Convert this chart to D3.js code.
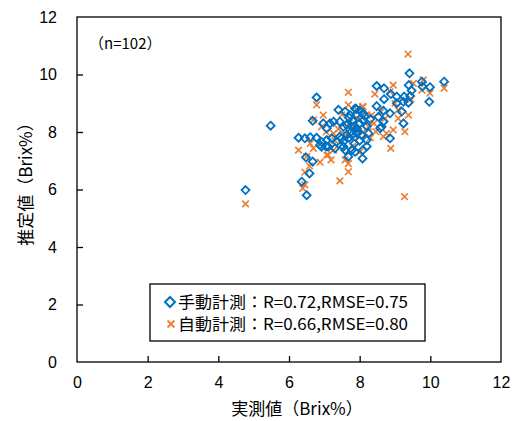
<!DOCTYPE html>
<html><head><meta charset="utf-8">
<script src="https://cdn.jsdelivr.net/npm/d3@7"></script>
<style>body{margin:0;background:#fff;}svg{display:block;}</style>
</head><body>
<script>
const xTicks = [0,2,4,6,8,10,12];
const yTicks = [0,2,4,6,8,10,12];
const manualX = [5.48,4.77,6.5,6.36,6.58,6.48,6.67,6.27,6.45,6.6,6.78,6.92,7.07,7.21,7.35,7.49,7.63,7.78,6.88,7.05,6.92,7.11,7.3,7.54,7.68,7.78,6.78,6.67,6.97,7.07,7.26,7.4,7.44,7.16,7.59,7.73,7.87,7.63,7.78,7.92,7.54,7.44,7.54,7.59,7.87,8.08,8.2,8.2,7.92,8.09,8.1,
7.7,7.8,7.9,8.0,7.85,7.95,8.05,7.75,8.1,8.2,7.9,8.0,8.15,7.7,8.0,7.85,8.25,8.3,
8.48,8.69,8.88,9.05,9.26,9.43,9.41,9.39,9.47,9.76,9.78,9.99,9.97,10.39,8.69,8.48,8.67,8.86,9.05,9.24,9.38,9.19,8.53,8.67,8.62,9.24,8.86,8.58];
const manualY = [8.22,5.98,5.8,6.27,6.56,7.12,6.97,7.8,7.78,7.82,7.8,7.66,7.72,7.78,7.66,7.78,7.9,7.9,7.55,7.5,7.49,7.49,7.43,7.49,7.14,7.37,9.2,8.39,8.3,8.13,8.36,8.77,8.36,8.3,8.71,8.59,8.82,8.24,8.18,8.13,8.18,7.84,7.66,7.37,7.31,7.08,7.72,7.5,7.95,7.37,8.65,
8.5,8.4,8.6,8.3,8.2,8.0,7.9,8.0,8.4,8.2,8.8,8.75,8.55,7.8,7.7,7.6,7.95,8.45,
9.6,9.52,9.32,9.23,9.23,9.25,10.04,9.63,9.44,9.75,9.58,9.56,9.05,9.75,9.14,8.9,8.74,8.65,9.0,9.05,9.02,8.71,8.53,8.36,8.18,8.3,7.78,8.13];
const autoX = [4.77,9.27,9.37,7.68,6.78,6.97,6.69,6.92,6.27,6.6,6.69,6.5,6.58,6.88,6.39,6.45,7.07,7.11,7.19,7.26,7.44,7.68,7.68,7.59,7.26,7.68,8.08,8.25,8.46,8.67,8.88,8.43,8.95,8.86,9.09,9.38,9.09,9.28,8.95,8.76,8.34,8.1,9.52,9.76,9.99,9.8,10.39,8.72,7.92,
7.7,7.9,8.1,7.6,8.2,7.8,8.0,7.5,8.3,7.95,7.4,7.3,8.4,8.6,9.0,9.45,7.05,6.45];
const autoY = [5.5,5.75,10.71,9.38,8.94,8.59,8.42,8.18,7.37,7.6,7.43,7.14,6.82,6.95,6.04,6.16,7.2,7.2,7.03,7.37,6.3,6.62,6.9,7.03,7.95,8.94,8.88,8.18,8.01,7.84,7.43,9.32,9.63,9.4,8.77,8.59,8.47,8.01,8.07,7.95,8.59,8.88,9.69,9.46,9.35,9.81,9.52,8.47,8.77,
8.3,8.1,8.0,7.9,8.6,7.5,7.3,8.6,7.8,8.45,8.1,7.7,8.3,8.7,9.0,9.15,8.0,6.6];
const nLabel = "（n=102）";
const legendLabels = ["手動計測：R=0.72,RMSE=0.75","自動計測：R=0.66,RMSE=0.80"];
const xTitle = "実測値（Brix%）";
const yTitle = "推定値（Brix%）";

const W=516,H=421;
const L=77,R=501,T=17,B=362;
const blue="#0070C0", orange="#ED7D31";
const font="'Liberation Sans','Noto Sans CJK JP',Arial,sans-serif";
const jfont="'Noto Sans CJK JP','Liberation Sans',sans-serif";

const svg=d3.select("body").append("svg").attr("width",W).attr("height",H);
const x=d3.scaleLinear().domain([0,12]).range([L,R]);
const y=d3.scaleLinear().domain([0,12]).range([B,T]);

const xa=svg.append("g").attr("transform",`translate(0,${B})`)
  .call(d3.axisBottom(x).tickValues(xTicks).tickSizeInner(-6).tickSizeOuter(0).tickPadding(15));
const ya=svg.append("g").attr("transform",`translate(${L},0)`)
  .call(d3.axisLeft(y).tickValues(yTicks).tickSizeInner(-6).tickSizeOuter(0).tickPadding(20));
[xa,ya].forEach(g=>{
  g.select(".domain").remove();
  g.selectAll("line").attr("stroke","#000").attr("stroke-width",1.3);
  g.selectAll("text").attr("font-family",font).attr("font-size",16).attr("fill","#000");
});
xa.selectAll(".tick").filter(d=>d===0||d===12).select("line").remove();
ya.selectAll(".tick").filter(d=>d===0||d===12).select("line").remove();

svg.append("rect").attr("x",L).attr("y",T).attr("width",R-L).attr("height",B-T)
  .attr("fill","none").attr("stroke","#000").attr("stroke-width",1.3);

const diamond=(cx,cy,r)=>`M${cx},${cy-r}L${cx+r},${cy}L${cx},${cy+r}L${cx-r},${cy}Z`;
const cross=(cx,cy,r)=>`M${cx-r},${cy-r}L${cx+r},${cy+r}M${cx-r},${cy+r}L${cx+r},${cy-r}`;

const g=svg.append("g");
g.selectAll(".a").data(d3.range(autoX.length)).enter().append("path")
  .attr("d",i=>cross(x(autoX[i]),y(autoY[i]),3.3))
  .attr("stroke",orange).attr("stroke-width",1.6).attr("fill","none");
g.selectAll(".m").data(d3.range(manualX.length)).enter().append("path")
  .attr("d",i=>diamond(x(manualX[i]),y(manualY[i]),4))
  .attr("stroke",blue).attr("stroke-width",1.8).attr("fill","none");

svg.append("text").attr("x",89).attr("y",49).attr("font-family",jfont).attr("font-size",15)
  .text(nLabel);

const lg=svg.append("g");
lg.append("rect").attr("x",150).attr("y",284).attr("width",275).attr("height",57)
  .attr("fill","#fff").attr("stroke","#000").attr("stroke-width",1.3);
lg.append("path").attr("d",diamond(170,302,5)).attr("stroke",blue).attr("stroke-width",2).attr("fill","none");
lg.append("path").attr("d",cross(171,324,3.5)).attr("stroke",orange).attr("stroke-width",1.8).attr("fill","none");
legendLabels.forEach((t,i)=>{
  lg.append("text").attr("x",178).attr("y",308+i*22).attr("font-family",jfont).attr("font-size",16)
    .attr("textLength",230).attr("lengthAdjust","spacingAndGlyphs").text(t);
});

svg.append("text").attr("x",297).attr("y",415).attr("text-anchor","middle")
  .attr("font-family",jfont).attr("font-size",17).text(xTitle);
svg.append("text").attr("transform","translate(32,180) rotate(-90)").attr("text-anchor","middle")
  .attr("font-family",jfont).attr("font-size",17).text(yTitle);
</script>
</body></html>
